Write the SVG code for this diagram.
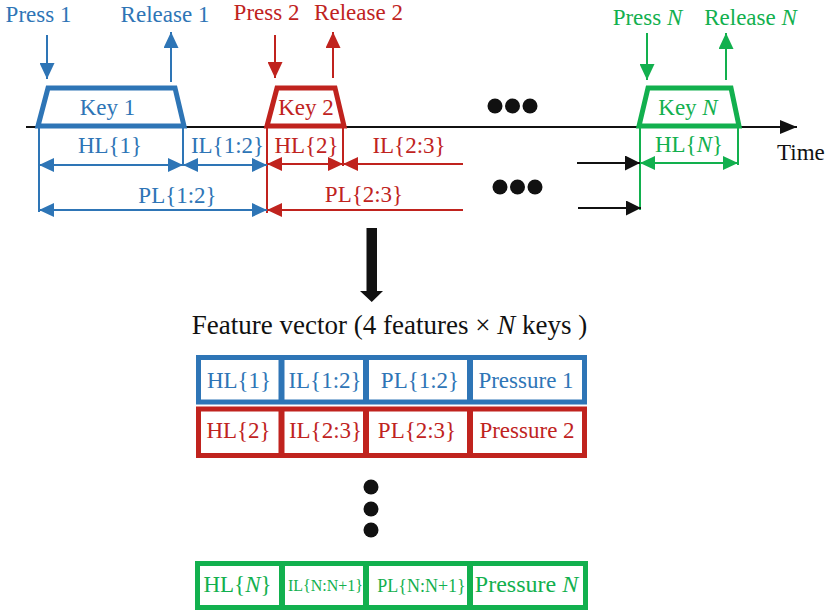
<svg xmlns="http://www.w3.org/2000/svg" width="831" height="614" viewBox="0 0 831 614">
<style>
text{font-family:"Liberation Serif","Times New Roman",serif;font-size:23px;text-anchor:middle}
.b{fill:#2E75B6}.r{fill:#C0231E}.g{fill:#12B04E}.k{fill:#111}
.sb{stroke:#2E75B6}.sr{stroke:#C0231E}.sg{stroke:#12B04E}.sk{stroke:#111}
.ln{stroke-width:2;fill:none}
.key{stroke-width:5;fill:none;stroke-linejoin:miter}
.cell{stroke-width:5;fill:#fff}
.div{stroke-width:6}
.it{font-style:italic}
</style>
<defs>
<marker id="pb" markerUnits="userSpaceOnUse" markerWidth="16" markerHeight="15" refX="16" refY="7.5" orient="auto"><path d="M0,0L16,7.5L0,15z" fill="#2E75B6"/></marker>
<marker id="pr" markerUnits="userSpaceOnUse" markerWidth="16" markerHeight="15" refX="16" refY="7.5" orient="auto"><path d="M0,0L16,7.5L0,15z" fill="#C0231E"/></marker>
<marker id="pg" markerUnits="userSpaceOnUse" markerWidth="16" markerHeight="15" refX="16" refY="7.5" orient="auto"><path d="M0,0L16,7.5L0,15z" fill="#12B04E"/></marker>
<marker id="db" markerUnits="userSpaceOnUse" markerWidth="15" markerHeight="14" refX="15" refY="7" orient="auto-start-reverse"><path d="M0,0L15,7L0,14z" fill="#2E75B6"/></marker>
<marker id="dr" markerUnits="userSpaceOnUse" markerWidth="15" markerHeight="14" refX="15" refY="7" orient="auto-start-reverse"><path d="M0,0L15,7L0,14z" fill="#C0231E"/></marker>
<marker id="dg" markerUnits="userSpaceOnUse" markerWidth="15" markerHeight="14" refX="15" refY="7" orient="auto-start-reverse"><path d="M0,0L15,7L0,14z" fill="#12B04E"/></marker>
<marker id="dk" markerUnits="userSpaceOnUse" markerWidth="15" markerHeight="15" refX="15" refY="7.5" orient="auto"><path d="M0,0L15,7.5L0,15z" fill="#111"/></marker>
<marker id="tk" markerUnits="userSpaceOnUse" markerWidth="17" markerHeight="14" refX="17" refY="7" orient="auto"><path d="M0,0L17,7L0,14z" fill="#111"/></marker>
</defs>

<g id="timeline">
<line class="ln sk" x1="26" y1="127" x2="797" y2="127" marker-end="url(#tk)"/>
<text class="k" x="777" y="160" style="text-anchor:start">Time</text>
</g>

<g id="key1">
<polygon class="key sb" points="38,126 48,88 175,88 184,126"/>
<text class="b" x="107.5" y="115">Key 1</text>
<text class="b" x="38.5" y="22">Press 1</text>
<text class="b" x="165" y="22">Release 1</text>
</g>
<g id="key2">
<polygon class="key sr" points="267,126 277,88 335,88 344,126"/>
<text class="r" x="306" y="115">Key 2</text>
<text class="r" x="266.5" y="20">Press 2</text>
<text class="r" x="358.5" y="20">Release 2</text>
</g>
<g id="keyN">
<polygon class="key sg" points="639,126 648,88 731,88 739,126"/>
<text class="g" x="688" y="115">Key <tspan class="it">N</tspan></text>
<text class="g" x="647.5" y="25">Press <tspan class="it">N</tspan></text>
<text class="g" x="750.5" y="25">Release <tspan class="it">N</tspan></text>
</g>

<g id="dots-top" class="k">
<circle cx="495" cy="106" r="7.5"/><circle cx="512.5" cy="106" r="7.5"/><circle cx="530" cy="106" r="7.5"/>
<circle cx="500" cy="187" r="7.5"/><circle cx="517.5" cy="187" r="7.5"/><circle cx="535" cy="187" r="7.5"/>
</g>

<g id="connectors">
<line class="ln sb" x1="47" y1="35" x2="47" y2="79" marker-end="url(#pb)"/>
<line class="ln sb" x1="171" y1="82" x2="171" y2="32" marker-end="url(#pb)"/>
<line class="ln sr" x1="275" y1="35" x2="275" y2="78" marker-end="url(#pr)"/>
<line class="ln sr" x1="333" y1="78" x2="333" y2="32" marker-end="url(#pr)"/>
<line class="ln sg" x1="647" y1="33" x2="647" y2="80" marker-end="url(#pg)"/>
<line class="ln sg" x1="726" y1="80" x2="726" y2="33" marker-end="url(#pg)"/>
<line class="ln sb" x1="39" y1="126" x2="39" y2="212"/>
<line class="ln sb" x1="183" y1="126" x2="183" y2="166"/>
<line class="ln sr" x1="267" y1="126" x2="267" y2="213"/>
<line class="ln sr" x1="343" y1="126" x2="343" y2="166"/>
<line class="ln sg" x1="640" y1="126" x2="640" y2="210"/>
<line class="ln sg" x1="738" y1="126" x2="738" y2="165"/>
<line class="ln sb" x1="39" y1="165" x2="183" y2="165" marker-start="url(#db)" marker-end="url(#db)"/>
<line class="ln sb" x1="183" y1="165" x2="267" y2="165" marker-start="url(#db)" marker-end="url(#db)"/>
<line class="ln sb" x1="39" y1="210" x2="267" y2="210" marker-start="url(#db)" marker-end="url(#db)"/>
<line class="ln sr" x1="267" y1="164" x2="343" y2="164" marker-start="url(#dr)" marker-end="url(#dr)"/>
<line class="ln sr" x1="463" y1="164" x2="343" y2="164" marker-end="url(#dr)"/>
<line class="ln sr" x1="463" y1="210" x2="267" y2="210" marker-end="url(#dr)"/>
<line class="ln sg" x1="640" y1="163" x2="738" y2="163" marker-start="url(#dg)" marker-end="url(#dg)"/>
<line class="ln sk" x1="577" y1="163" x2="640" y2="163" marker-end="url(#dk)"/>
<line class="ln sk" x1="578" y1="208" x2="641" y2="208" marker-end="url(#dk)"/>
<path d="M366.5,228H377V291H383L371.75,302L360,291H366.5Z" fill="#111"/>
</g>

<g id="dim-labels">
<text class="b" x="110" y="153">HL{1}</text>
<text class="b" x="227.5" y="153">IL{1:2}</text>
<text class="b" x="177.5" y="203">PL{1:2}</text>
<text class="r" x="306.5" y="153">HL{2}</text>
<text class="r" x="409" y="153">IL{2:3}</text>
<text class="r" x="364" y="202">PL{2:3}</text>
<text class="g" x="689" y="152">HL{<tspan class="it">N</tspan>}</text>
</g>

<g id="title">
<text class="k" x="389.5" y="334" style="font-size:27px">Feature vector (4 features × <tspan class="it">N</tspan> keys )</text>
</g>

<g id="row1">
<rect class="cell sb" x="198.5" y="357.5" width="386" height="44.5"/>
<line class="div sb" x1="281.5" y1="357.5" x2="281.5" y2="402"/>
<line class="div sb" x1="366" y1="357.5" x2="366" y2="402"/>
<line class="div sb" x1="470" y1="357.5" x2="470" y2="402"/>
<text class="b" x="239" y="388">HL{1}</text>
<text class="b" x="325" y="388">IL{1:2}</text>
<text class="b" x="420" y="388">PL{1:2}</text>
<text class="b" x="526" y="388">Pressure 1</text>
</g>
<g id="row2">
<rect class="cell sr" x="198.5" y="409" width="386" height="46.5"/>
<line class="div sr" x1="281.5" y1="409" x2="281.5" y2="455.5"/>
<line class="div sr" x1="366" y1="409" x2="366" y2="455.5"/>
<line class="div sr" x1="470" y1="409" x2="470" y2="455.5"/>
<text class="r" x="238.5" y="438">HL{2}</text>
<text class="r" x="325.5" y="438">IL{2:3}</text>
<text class="r" x="417" y="438">PL{2:3}</text>
<text class="r" x="527" y="438">Pressure 2</text>
</g>
<g id="dots-table" class="k">
<circle cx="371" cy="487" r="7.5"/><circle cx="371" cy="509" r="7.5"/><circle cx="371" cy="530" r="7.5"/>
</g>
<g id="rowN">
<rect class="cell sg" x="197.5" y="563.5" width="388" height="44"/>
<line class="div sg" x1="282" y1="563.5" x2="282" y2="607.5"/>
<line class="div sg" x1="366" y1="563.5" x2="366" y2="607.5"/>
<line class="div sg" x1="470" y1="563.5" x2="470" y2="607.5"/>
<text class="g" x="237.5" y="592">HL{<tspan class="it">N</tspan>}</text>
<text class="g" x="325.5" y="591" style="font-size:16px">IL{N:N+1}</text>
<text class="g" x="421.5" y="592" style="font-size:18px">PL{N:N+1}</text>
<text class="g" x="526.5" y="592" style="font-size:24px">Pressure <tspan class="it">N</tspan></text>
</g>
</svg>
